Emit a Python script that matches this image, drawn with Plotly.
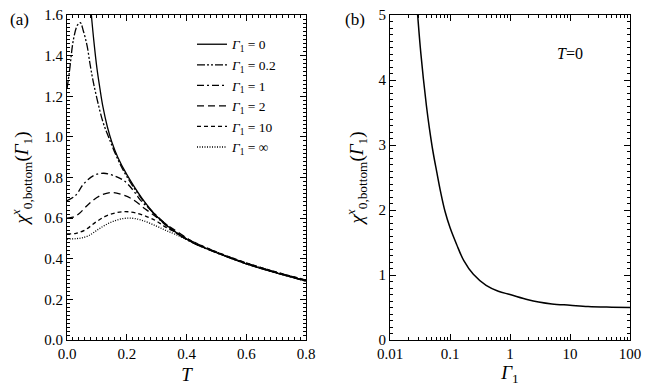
import plotly.graph_objects as go
from plotly.subplots import make_subplots

FONT = "Liberation Serif"

# Panel (a): chi vs T for several Gamma_1
T_g0 = [0.0815, 0.09, 0.10, 0.11, 0.12, 0.135, 0.15, 0.17, 0.20, 0.25, 0.30, 0.35, 0.42, 0.50, 0.60, 0.70, 0.80]
chi_g0 = [1.60, 1.47, 1.34, 1.24, 1.15, 1.05, 0.975, 0.90, 0.815, 0.70, 0.61, 0.545, 0.48, 0.43, 0.375, 0.33, 0.29]

T_g02 = [0.0, 0.008, 0.022, 0.035, 0.0446, 0.055, 0.067, 0.077, 0.086, 0.10, 0.12, 0.143, 0.17, 0.20, 0.25, 0.30, 0.35, 0.42, 0.50, 0.60, 0.70, 0.80]
chi_g02 = [1.236, 1.32, 1.483, 1.55, 1.562, 1.52, 1.45, 1.36, 1.285, 1.19, 1.075, 0.985, 0.89, 0.805, 0.695, 0.607, 0.543, 0.479, 0.43, 0.375, 0.33, 0.29]

T_g1 = [0.0, 0.028, 0.056, 0.09, 0.123, 0.155, 0.19, 0.22, 0.245, 0.28, 0.32, 0.36, 0.42, 0.50, 0.60, 0.70, 0.80]
chi_g1 = [0.686, 0.711, 0.769, 0.81, 0.821, 0.81, 0.785, 0.74, 0.69, 0.64, 0.585, 0.536, 0.481, 0.431, 0.377, 0.332, 0.292]

T_g2 = [0.0, 0.02, 0.039, 0.073, 0.11, 0.151, 0.185, 0.218, 0.262, 0.30, 0.33, 0.37, 0.42, 0.50, 0.60, 0.70, 0.80]
chi_g2 = [0.60, 0.605, 0.62, 0.67, 0.71, 0.726, 0.715, 0.694, 0.645, 0.605, 0.572, 0.532, 0.485, 0.433, 0.379, 0.334, 0.294]

T_g10 = [0.0, 0.03, 0.061, 0.095, 0.13, 0.165, 0.195, 0.23, 0.273, 0.30, 0.329, 0.37, 0.42, 0.50, 0.60, 0.70, 0.80]
chi_g10 = [0.522, 0.525, 0.542, 0.579, 0.61, 0.627, 0.632, 0.626, 0.604, 0.585, 0.557, 0.525, 0.486, 0.434, 0.38, 0.335, 0.295]

T_ginf = [0.0, 0.03, 0.05, 0.073, 0.106, 0.14, 0.175, 0.212, 0.25, 0.296, 0.33, 0.363, 0.42, 0.50, 0.60, 0.70, 0.80]
chi_ginf = [0.497, 0.499, 0.503, 0.514, 0.546, 0.575, 0.594, 0.60, 0.59, 0.563, 0.54, 0.52, 0.481, 0.432, 0.378, 0.333, 0.293]

# Panel (b): chi vs Gamma_1 at T=0
gam = [0.0289, 0.032, 0.036, 0.0405, 0.0453, 0.052, 0.060, 0.070, 0.0825, 0.1, 0.129, 0.17, 0.245, 0.4, 0.639, 1, 2, 3, 5, 10, 20, 50, 100]
chi_b = [5.0, 4.5, 4.02, 3.6, 3.26, 2.9, 2.59, 2.27, 1.98, 1.73, 1.47, 1.22, 1.01, 0.84, 0.75, 0.70, 0.62, 0.585, 0.555, 0.535, 0.515, 0.505, 0.50]

log_minor = [m * 10.0 ** e for e in range(-2, 2) for m in range(2, 10)]

series = [
    (T_g0, chi_g0, "0", "solid"),
    (T_g02, chi_g02, "0.2", "8px,2px,2px,2px,2px,2px"),
    (T_g1, chi_g1, "1", "7px,3px,2px,3px"),
    (T_g2, chi_g2, "2", "7px,4px"),
    (T_g10, chi_g10, "10", "4px,3px"),
    (T_ginf, chi_ginf, "∞", "1px,1.5px"),
]

fig = make_subplots(rows=1, cols=2)

for x, y, lab, dash in series:
    fig.add_trace(go.Scatter(
        x=x, y=y, mode="lines",
        line=dict(color="black", width=1.3, dash=dash, shape="spline", smoothing=1.0),
        name=f"<i>Γ</i><sub>1</sub> = {lab}",
    ), row=1, col=1)

fig.add_trace(go.Scatter(
    x=gam, y=chi_b, mode="lines",
    line=dict(color="black", width=1.5, shape="spline", smoothing=1.0),
    showlegend=False,
), row=1, col=2)

axis_common = dict(
    showline=True, linecolor="black", linewidth=1.2, mirror="ticks",
    ticks="inside", ticklen=6, tickwidth=1, tickcolor="black",
    showgrid=False, zeroline=False, automargin=False,
    ticklabeloverflow="allow",
    tickfont=dict(family=FONT, size=15, color="black"),
)
minor_style = dict(ticks="inside", ticklen=3, tickwidth=1, tickcolor="black", showgrid=False)
title_font = dict(family=FONT, size=19, color="black")

ytitle = "<i>χ</i><sup><i>x</i></sup><sub>0,bottom</sub>(<i>Γ</i><sub>1</sub>)"

# the page body adds ~8px of margin, so the figure is a bit smaller than the window
W, H = 646, 381

fig.update_xaxes(axis_common, row=1, col=1)
fig.update_xaxes(range=[0, 0.8], dtick=0.2, tickformat=".1f",
                 minor=dict(minor_style, dtick=0.02),
                 domain=[59 / W, 298 / W],
                 title=dict(text="<i>T</i>", font=title_font, standoff=6),
                 row=1, col=1)
fig.update_yaxes(axis_common, row=1, col=1)
fig.update_yaxes(range=[0, 1.6], dtick=0.2, tickformat=".1f",
                 minor=dict(minor_style, dtick=0.02),
                 title=dict(text=ytitle, font=title_font, standoff=14),
                 row=1, col=1)

fig.update_xaxes(axis_common, row=1, col=2)
fig.update_xaxes(type="log", range=[-2, 2],
                 tickvals=[0.01, 0.1, 1, 10, 100], ticktext=["0.01", "0.1", "1", "10", "100"],
                 minor=dict(minor_style, tickmode="array", tickvals=log_minor),
                 domain=[382 / W, 622 / W],
                 title=dict(text="<i>Γ</i><sub>1</sub>", font=title_font, standoff=0),
                 row=1, col=2)
fig.update_yaxes(axis_common, row=1, col=2)
fig.update_yaxes(range=[0, 5], dtick=1,
                 minor=dict(minor_style, dtick=0.1),
                 title=dict(text=ytitle, font=title_font, standoff=9),
                 row=1, col=2)

fig.update_yaxes(domain=[1 - 332 / H, 1 - 7 / H])

fig.add_annotation(text="(a)", x=0.0, y=1.0, xref="paper", yref="paper",
                   xanchor="left", yanchor="top", showarrow=False,
                   font=dict(family=FONT, size=17, color="black"))
fig.add_annotation(text="(b)", x=335 / W, y=1.0, xref="paper", yref="paper",
                   xanchor="left", yanchor="top", showarrow=False,
                   font=dict(family=FONT, size=17, color="black"))
fig.add_annotation(text="<i>T</i>=0", x=562 / W, y=1 - 45 / H, xref="paper", yref="paper",
                   xanchor="center", yanchor="middle", showarrow=False,
                   font=dict(family=FONT, size=16, color="black"))

fig.update_layout(
    width=W, height=H,
    margin=dict(l=0, r=0, t=0, b=0, autoexpand=False),
    paper_bgcolor="white", plot_bgcolor="white",
    font=dict(family=FONT, color="black"),
    legend=dict(x=184 / W, y=0.945, xanchor="left", yanchor="top",
                bgcolor="rgba(0,0,0,0)", borderwidth=0,
                font=dict(family=FONT, size=13.5, color="black"),
                itemwidth=30, tracegroupgap=0),
    showlegend=True,
)

fig.write_html("out.html")
